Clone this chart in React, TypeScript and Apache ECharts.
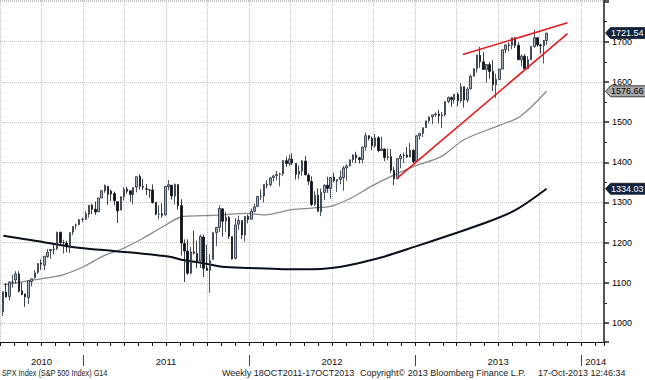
import React, { useEffect, useRef } from "react";
import * as echarts from "echarts";

// Weekly candles: [week ending, open, high, low, close]
const weeks2010: [string, number, number, number, number][] = [
  ["2010-07-09", 1028, 1078, 1018, 1078],
  ["2010-07-16", 1077, 1099, 1063, 1065],
  ["2010-07-23", 1066, 1103, 1056, 1102],
  ["2010-07-30", 1102, 1120, 1088, 1102],
  ["2010-08-06", 1107, 1129, 1098, 1122],
  ["2010-08-13", 1122, 1129, 1076, 1079],
  ["2010-08-20", 1080, 1100, 1069, 1071],
  ["2010-08-27", 1072, 1073, 1040, 1065],
  ["2010-09-03", 1063, 1105, 1047, 1105],
  ["2010-09-10", 1103, 1110, 1091, 1110],
  ["2010-09-17", 1113, 1131, 1110, 1125],
  ["2010-09-24", 1126, 1149, 1122, 1148],
  ["2010-10-01", 1149, 1158, 1132, 1147],
  ["2010-10-08", 1144, 1167, 1131, 1166],
  ["2010-10-15", 1165, 1184, 1162, 1176],
  ["2010-10-22", 1180, 1184, 1160, 1183],
  ["2010-10-29", 1184, 1196, 1171, 1183],
  ["2010-11-05", 1185, 1227, 1181, 1226],
  ["2010-11-12", 1226, 1227, 1195, 1200],
  ["2010-11-19", 1200, 1207, 1173, 1200],
  ["2010-11-26", 1199, 1205, 1176, 1190],
  ["2010-12-03", 1187, 1225, 1174, 1225],
  ["2010-12-10", 1226, 1241, 1219, 1240],
  ["2010-12-17", 1243, 1247, 1233, 1244],
  ["2010-12-23", 1245, 1259, 1243, 1257],
  ["2010-12-31", 1258, 1262, 1251, 1258],
];

const weeks2011: [string, number, number, number, number][] = [
  ["2011-01-07", 1258, 1278, 1257, 1272],
  ["2011-01-14", 1271, 1293, 1262, 1293],
  ["2011-01-21", 1293, 1297, 1271, 1283],
  ["2011-01-28", 1283, 1302, 1269, 1276],
  ["2011-02-04", 1277, 1311, 1276, 1311],
  ["2011-02-11", 1311, 1330, 1311, 1329],
  ["2011-02-18", 1329, 1344, 1324, 1343],
  ["2011-02-25", 1340, 1340, 1294, 1320],
  ["2011-03-04", 1328, 1332, 1303, 1321],
  ["2011-03-11", 1322, 1327, 1293, 1304],
  ["2011-03-18", 1302, 1302, 1249, 1279],
  ["2011-03-25", 1281, 1315, 1281, 1314],
  ["2011-04-01", 1315, 1338, 1305, 1332],
  ["2011-04-08", 1333, 1339, 1322, 1328],
  ["2011-04-15", 1329, 1329, 1302, 1320],
  ["2011-04-21", 1319, 1337, 1295, 1337],
  ["2011-04-29", 1338, 1364, 1325, 1364],
  ["2011-05-06", 1365, 1370, 1332, 1340],
  ["2011-05-13", 1340, 1359, 1331, 1338],
  ["2011-05-20", 1334, 1346, 1318, 1333],
  ["2011-05-27", 1331, 1334, 1311, 1331],
  ["2011-06-03", 1331, 1345, 1297, 1300],
  ["2011-06-10", 1300, 1301, 1268, 1271],
  ["2011-06-17", 1271, 1293, 1258, 1271],
  ["2011-06-24", 1272, 1298, 1262, 1268],
  ["2011-07-01", 1269, 1340, 1267, 1340],
  ["2011-07-08", 1339, 1356, 1330, 1344],
  ["2011-07-15", 1343, 1343, 1307, 1316],
  ["2011-07-22", 1316, 1347, 1295, 1345],
  ["2011-07-29", 1344, 1346, 1282, 1292],
  ["2011-08-05", 1292, 1308, 1168, 1199],
  ["2011-08-12", 1198, 1208, 1102, 1179],
  ["2011-08-19", 1179, 1208, 1120, 1124],
  ["2011-08-26", 1124, 1190, 1121, 1177],
  ["2011-09-02", 1177, 1230, 1170, 1174],
  ["2011-09-09", 1173, 1205, 1136, 1154],
  ["2011-09-16", 1154, 1220, 1137, 1216],
  ["2011-09-23", 1214, 1220, 1114, 1136],
  ["2011-09-30", 1137, 1195, 1130, 1131],
  ["2011-10-07", 1131, 1172, 1075, 1155],
  ["2011-10-14", 1158, 1224, 1158, 1225],
  ["2011-10-21", 1225, 1239, 1191, 1238],
  ["2011-10-28", 1238, 1293, 1226, 1285],
  ["2011-11-04", 1284, 1285, 1215, 1253],
  ["2011-11-11", 1254, 1277, 1226, 1263],
  ["2011-11-18", 1263, 1266, 1209, 1216],
  ["2011-11-25", 1215, 1215, 1158, 1159],
  ["2011-12-02", 1161, 1261, 1158, 1244],
  ["2011-12-09", 1246, 1267, 1232, 1255],
  ["2011-12-16", 1255, 1255, 1209, 1219],
  ["2011-12-23", 1219, 1266, 1203, 1265],
  ["2011-12-30", 1265, 1270, 1248, 1258],
];

const weeks2012: [string, number, number, number, number][] = [
  ["2012-01-06", 1258, 1285, 1258, 1278],
  ["2012-01-13", 1278, 1297, 1275, 1289],
  ["2012-01-20", 1290, 1316, 1290, 1315],
  ["2012-01-27", 1315, 1333, 1306, 1316],
  ["2012-02-03", 1316, 1345, 1300, 1345],
  ["2012-02-10", 1344, 1355, 1335, 1343],
  ["2012-02-17", 1344, 1363, 1340, 1361],
  ["2012-02-24", 1362, 1368, 1352, 1366],
  ["2012-03-02", 1367, 1378, 1355, 1370],
  ["2012-03-09", 1370, 1374, 1340, 1371],
  ["2012-03-16", 1371, 1405, 1366, 1404],
  ["2012-03-23", 1404, 1414, 1388, 1397],
  ["2012-03-30", 1397, 1419, 1391, 1408],
  ["2012-04-05", 1408, 1422, 1393, 1398],
  ["2012-04-13", 1397, 1397, 1357, 1370],
  ["2012-04-20", 1370, 1392, 1358, 1378],
  ["2012-04-27", 1378, 1406, 1366, 1403],
  ["2012-05-04", 1403, 1415, 1367, 1369],
  ["2012-05-11", 1368, 1373, 1343, 1353],
  ["2012-05-18", 1352, 1365, 1291, 1295],
  ["2012-05-25", 1295, 1328, 1291, 1318],
  ["2012-06-01", 1318, 1335, 1277, 1278],
  ["2012-06-08", 1277, 1335, 1266, 1325],
  ["2012-06-15", 1325, 1345, 1306, 1343],
  ["2012-06-22", 1343, 1364, 1324, 1335],
  ["2012-06-29", 1335, 1363, 1309, 1362],
  ["2012-07-06", 1363, 1374, 1350, 1354],
  ["2012-07-13", 1353, 1357, 1326, 1357],
  ["2012-07-20", 1357, 1380, 1345, 1363],
  ["2012-07-27", 1362, 1391, 1329, 1386],
  ["2012-08-03", 1386, 1395, 1354, 1391],
  ["2012-08-10", 1391, 1407, 1390, 1406],
  ["2012-08-17", 1406, 1420, 1399, 1418],
  ["2012-08-24", 1418, 1426, 1398, 1411],
  ["2012-08-31", 1411, 1414, 1397, 1407],
  ["2012-09-07", 1407, 1438, 1397, 1438],
  ["2012-09-14", 1438, 1474, 1429, 1466],
  ["2012-09-21", 1466, 1467, 1454, 1460],
  ["2012-09-28", 1460, 1464, 1430, 1441],
  ["2012-10-05", 1441, 1470, 1436, 1461],
  ["2012-10-12", 1461, 1465, 1425, 1429],
  ["2012-10-19", 1429, 1464, 1428, 1433],
  ["2012-10-26", 1433, 1434, 1403, 1412],
  ["2012-11-02", 1412, 1434, 1405, 1414],
  ["2012-11-09", 1414, 1433, 1373, 1380],
  ["2012-11-16", 1380, 1389, 1343, 1359],
  ["2012-11-23", 1359, 1410, 1359, 1409],
  ["2012-11-30", 1409, 1421, 1385, 1416],
  ["2012-12-07", 1416, 1424, 1398, 1418],
  ["2012-12-14", 1418, 1438, 1411, 1413],
  ["2012-12-21", 1413, 1448, 1416, 1430],
  ["2012-12-28", 1430, 1432, 1398, 1402],
];

const weeks2013: [string, number, number, number, number][] = [
  ["2013-01-04", 1402, 1467, 1402, 1466],
  ["2013-01-11", 1466, 1472, 1456, 1472],
  ["2013-01-18", 1472, 1486, 1463, 1486],
  ["2013-01-25", 1486, 1503, 1485, 1503],
  ["2013-02-01", 1503, 1514, 1496, 1513],
  ["2013-02-08", 1513, 1518, 1495, 1518],
  ["2013-02-15", 1518, 1524, 1513, 1520],
  ["2013-02-22", 1520, 1531, 1497, 1516],
  ["2013-03-01", 1516, 1525, 1485, 1518],
  ["2013-03-08", 1518, 1552, 1514, 1551],
  ["2013-03-15", 1551, 1564, 1547, 1561],
  ["2013-03-22", 1561, 1564, 1538, 1556],
  ["2013-03-28", 1556, 1570, 1546, 1569],
  ["2013-04-05", 1569, 1574, 1539, 1553],
  ["2013-04-12", 1553, 1597, 1548, 1588],
  ["2013-04-19", 1588, 1588, 1536, 1555],
  ["2013-04-26", 1555, 1587, 1549, 1582],
  ["2013-05-03", 1583, 1618, 1581, 1614],
  ["2013-05-10", 1614, 1633, 1614, 1633],
  ["2013-05-17", 1633, 1667, 1623, 1667],
  ["2013-05-24", 1666, 1687, 1635, 1650],
  ["2013-05-31", 1650, 1674, 1631, 1631],
  ["2013-06-07", 1631, 1644, 1598, 1643],
  ["2013-06-14", 1643, 1649, 1608, 1626],
  ["2013-06-21", 1626, 1654, 1577, 1593],
  ["2013-06-28", 1593, 1620, 1560, 1606],
  ["2013-07-05", 1606, 1632, 1605, 1632],
  ["2013-07-12", 1632, 1680, 1632, 1680],
  ["2013-07-19", 1680, 1693, 1671, 1692],
  ["2013-07-26", 1692, 1698, 1676, 1691],
  ["2013-08-02", 1691, 1710, 1681, 1710],
  ["2013-08-09", 1710, 1710, 1684, 1691],
  ["2013-08-16", 1691, 1699, 1655, 1655],
  ["2013-08-23", 1655, 1669, 1639, 1664],
  ["2013-08-30", 1664, 1669, 1630, 1633],
  ["2013-09-06", 1633, 1664, 1633, 1655],
  ["2013-09-13", 1655, 1689, 1655, 1688],
  ["2013-09-20", 1688, 1730, 1685, 1710],
  ["2013-09-27", 1710, 1711, 1687, 1692],
  ["2013-10-04", 1692, 1695, 1671, 1690],
  ["2013-10-11", 1690, 1704, 1646, 1703],
  ["2013-10-17", 1703, 1722, 1692, 1721.54],
];

// Moving averages: [date, value]
const ma50Gray: [string, number][] = [
  ["2010-07-10", 1095], ["2010-08-23", 1103], ["2010-10-06", 1111],
  ["2010-11-18", 1120], ["2011-01-02", 1140], ["2011-02-15", 1167],
  ["2011-03-31", 1186], ["2011-05-13", 1211], ["2011-06-26", 1240],
  ["2011-08-08", 1265], ["2011-09-21", 1267], ["2011-11-03", 1269],
  ["2011-12-24", 1273], ["2012-02-05", 1269], ["2012-04-04", 1282],
  ["2012-05-18", 1286], ["2012-07-01", 1291], ["2012-08-13", 1311],
  ["2012-09-26", 1340], ["2012-11-09", 1365], ["2012-12-30", 1390],
  ["2013-02-27", 1414], ["2013-04-18", 1456], ["2013-07-08", 1493],
  ["2013-08-20", 1514], ["2013-10-17", 1576.66],
];

const ma200Black: [string, number][] = [
  ["2010-07-10", 1217], ["2010-09-21", 1204], ["2010-12-04", 1190],
  ["2011-03-09", 1179], ["2011-04-28", 1174], ["2011-07-10", 1165],
  ["2011-08-08", 1157], ["2011-09-21", 1149], ["2011-11-03", 1140],
  ["2012-01-01", 1137], ["2012-03-14", 1134], ["2012-05-18", 1134],
  ["2012-07-01", 1137], ["2012-08-13", 1145], ["2012-10-18", 1163],
  ["2013-01-01", 1190], ["2013-03-14", 1217], ["2013-05-25", 1245],
  ["2013-08-08", 1280], ["2013-10-17", 1334.03],
];

// Trend lines drawn on the chart
const upperTrend: [string, number][] = [["2013-04-16", 1668], ["2013-12-02", 1747]];
const lowerTrend: [string, number][] = [["2012-11-24", 1362], ["2013-12-02", 1720]];

const yearLabels = ["2010", "2011", "2012", "2013", "2014"];
const lastValues = [
  { value: 1721.54, fill: "#0f2341", text: "#ffffff" },
  { value: 1576.66, fill: "#a8a8a8", text: "#000000" },
  { value: 1334.03, fill: "#0f2341", text: "#ffffff" },
];
const footerTexts = [
  "SPX Index (S&P 500 Index) G14",
  "Weekly 18OCT2011-17OCT2013",
  "Copyright\u00a9 2013 Bloomberg Finance L.P.",
  "17-Oct-2013 12:46:34",
];

const toYear = (d: string) => {
  const [y, m, day] = d.split("-").map(Number);
  const s = Date.UTC(y, 0, 1);
  const e = Date.UTC(y + 1, 0, 1);
  return y + (Date.UTC(y, m - 1, day) - s) / (e - s);
};

const FONT = "'Liberation Sans', Arial, sans-serif";

export default function App() {
  const ref = useRef<HTMLDivElement>(null);
  useEffect(() => {
    const chart = echarts.init(ref.current!, null, { renderer: "svg" });
    const all = [...weeks2010, ...weeks2011, ...weeks2012, ...weeks2013];
    const candleData = all.map(([d, o, h, l, c]) => [toYear(d), o, c, l, h]);
    const line = (arr: [string, number][]) => arr.map(([d, v]) => [toYear(d), v]);

    chart.setOption({
      animation: false,
      backgroundColor: "#ffffff",
      grid: { left: -4, right: 41, top: 0, bottom: 38 },
      xAxis: {
        type: "value",
        min: 2010.5,
        max: 2014.1376,
        interval: 0.25,
        axisLine: { show: true, onZero: false, lineStyle: { color: "#111", width: 1 } },
        axisTick: { show: true, length: 4, lineStyle: { color: "#111" } },
        minorTick: { show: true, splitNumber: 3, length: 4, lineStyle: { color: "#111" } },
        axisLabel: { show: false },
        splitLine: { show: true, lineStyle: { type: "dotted", color: "#c4c4c4", width: 1 } },
      },
      yAxis: {
        type: "value",
        position: "right",
        min: 952.7,
        max: 1803.8,
        splitNumber: 8,
        scale: true,
        axisLine: { show: true, lineStyle: { color: "#222", width: 1.5 } },
        axisTick: { show: true, length: 5, lineStyle: { color: "#222", width: 1.5 } },
        minorTick: { show: true, splitNumber: 2, length: 3, lineStyle: { color: "#222" } },
        axisLabel: {
          color: "#000",
          fontSize: 9,
          fontFamily: FONT,
          margin: 8,
          formatter: (v: number) =>
            Math.abs(v - Math.round(v / 100) * 100) < 0.01 && v >= 1000 && v <= 1700 ? String(Math.round(v)) : "",
        },
        splitLine: { show: true, lineStyle: { type: "dotted", color: "#c4c4c4", width: 1 } },
      },
      series: [
        {
          type: "line",
          data: line(ma50Gray),
          smooth: 0.3,
          showSymbol: false,
          lineStyle: { color: "#8a8a8a", width: 1.3 },
          z: 2,
        },
        {
          type: "line",
          data: line(ma200Black),
          smooth: 0.3,
          showSymbol: false,
          lineStyle: { color: "#0a0f1c", width: 2 },
          z: 2,
        },
        {
          type: "candlestick",
          data: candleData,
          encode: { x: 0, y: [1, 2, 3, 4] },
          barWidth: 2,
          itemStyle: {
            color: "#a2b0c0",
            color0: "#0c1118",
            borderColor: "#1f2a38",
            borderColor0: "#0c1118",
            borderWidth: 0.8,
          },
          z: 3,
        },
        {
          type: "line",
          data: line(upperTrend),
          showSymbol: false,
          lineStyle: { color: "#e31b1f", width: 1.6 },
          z: 4,
        },
        {
          type: "line",
          data: line(lowerTrend),
          showSymbol: false,
          lineStyle: { color: "#e31b1f", width: 1.6 },
          z: 4,
        },
      ],
    });

    const xPx = (t: number) => chart.convertToPixel({ xAxisIndex: 0 }, t) as number;
    const yPx = (v: number) => chart.convertToPixel({ yAxisIndex: 0 }, v) as number;
    const axisX = xPx(2014.1376);

    const graphics: any[] = [];
    lastValues.forEach((b) => {
      const y = yPx(b.value);
      graphics.push({
        type: "polygon",
        shape: {
          points: [
            [axisX + 1.5, y],
            [axisX + 6.5, y - 5.5],
            [646, y - 5.5],
            [646, y + 5.5],
            [axisX + 6.5, y + 5.5],
          ],
        },
        style: { fill: b.fill, stroke: "#1a1a1a", lineWidth: 0.8 },
        z: 100,
      });
      graphics.push({
        type: "text",
        x: axisX + 7,
        y,
        style: {
          text: b.value.toFixed(2),
          fill: b.text,
          fontSize: 9,
          fontFamily: FONT,
          verticalAlign: "middle",
          align: "left",
        },
        z: 101,
      });
    });

    yearLabels.forEach((lbl, i) => {
      const yr = Number(lbl);
      let cx: number;
      let align = "center";
      if (i === 0) cx = xPx(yr + 1) / 2;
      else if (i === yearLabels.length - 1) {
        cx = xPx(yr) + 4;
        align = "left";
      } else cx = xPx(yr + 0.5);
      graphics.push({
        type: "text",
        x: cx,
        y: 361,
        style: { text: lbl, fill: "#111", fontSize: 9.5, fontFamily: FONT, align, verticalAlign: "middle" },
      });
      if (i > 0) {
        const sx = Math.round(xPx(yr)) + 0.5;
        graphics.push({
          type: "line",
          shape: { x1: sx, y1: 355, x2: sx, y2: 366 },
          style: { stroke: "#444", lineWidth: 1 },
        });
      }
    });

    const footerX = [2, 222, 360, 538];
    const footerScale = [0.81, 1, 1, 1];
    footerTexts.forEach((t, i) => {
      graphics.push({
        type: "text",
        x: footerX[i],
        y: 373,
        scaleX: footerScale[i],
        style: { text: t, fill: "#222", fontSize: 9, fontFamily: FONT, align: "left", verticalAlign: "middle" },
      });
    });

    chart.setOption({ graphic: graphics });
    return () => chart.dispose();
  }, []);

  return (
    <div
      ref={ref}
      style={{ position: "fixed", left: 0, top: 0, width: 645, height: 380, background: "#fff" }}
    />
  );
}
